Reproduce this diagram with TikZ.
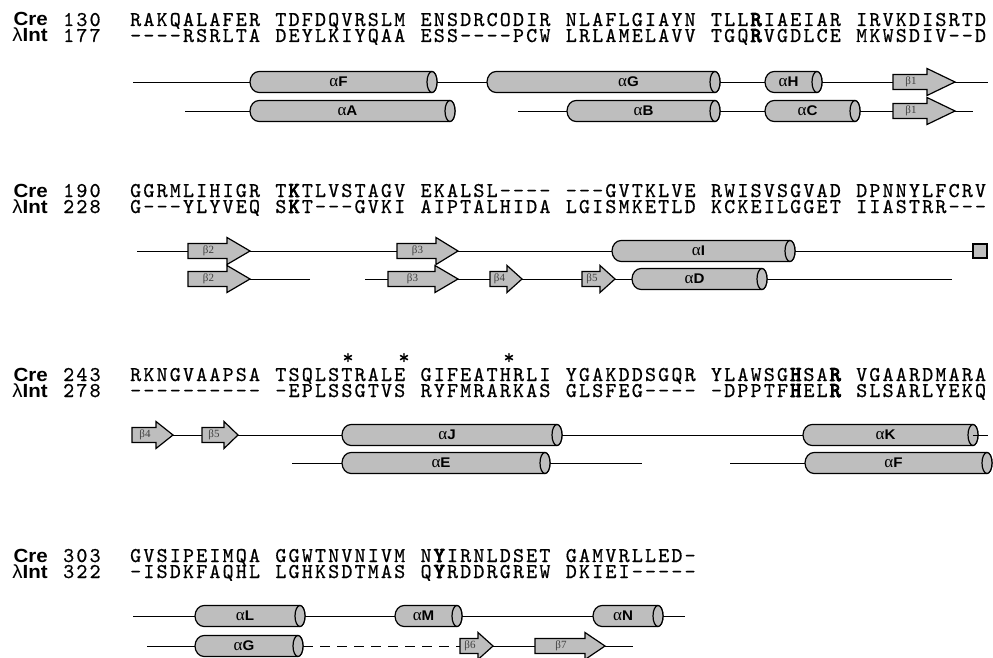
\documentclass[tikz,border=0pt]{standalone}
\usepackage{fontspec}
\setmainfont{Liberation Serif}
\newfontfamily\seqfont{lmmono10-regular.otf}[UprightFeatures={FakeBold=0.6},BoldFont=lmmono10-regular.otf,BoldFeatures={FakeBold=4.5},LetterSpace=10.36,Ligatures=TeXOff]
\newfontfamily\labfont{Liberation Sans}[FakeStretch=1.08]
\newfontfamily\grkfont{Liberation Serif}
\usetikzlibrary{calc}

\definecolor{ssfill}{RGB}{190,190,190}

% helix label: Greek alpha plus bold letter
\newcommand\al[1]{{\grkfont\fontsize{17}{17}\selectfont α}{\labfont\bfseries\fontsize{14}{14}\selectfont #1}}

% one aligned row of residues, set in groups of ten: {name}{baseline y}{groups}
\newcommand\seqrow[3]{%
  \foreach \g [count=\i from 0] in {#3} {
    \node[seq] (#1-\i) at ({130+\i*145.2},#2) {\g};
  }
}

% helix drawn as a cylinder: [label shift]{name}{x left}{x right}{y}{label}
\newcommand\helix[6][0]{%
  \path[ssline] (#3+9,#5-10.5) -- (#4-5,#5-10.5)
     arc[start angle=-90,end angle=90,x radius=5,y radius=10.5]
     -- (#3+9,#5+10.5)
     arc[start angle=90,end angle=270,x radius=9,y radius=10.5] -- cycle;
  \path[ssline] (#4-5,#5) ellipse[x radius=5,y radius=10.5];
  \node[ssbox, minimum width={(#4-#3)*1pt}, minimum height=21pt] (#2) at ({(#3+#4)/2},#5) {};
  \coordinate (#2-c) at (#4-5,#5);
  \node[hlab] (#2-t) at ({(#3+#4-10)/2+#1},#5) {#6};
}

% beta strand drawn as an arrow: [head length]{name}{x left}{x tip}{y}{label}
\newcommand\strand[6][20]{%
  \path[ssline] (#3,#5-7.5) -- (#4-#1,#5-7.5) -- (#4-#1,#5-13.5) -- (#4,#5)
     -- (#4-#1,#5+13.5) -- (#4-#1,#5+7.5) -- (#3,#5+7.5) -- cycle;
  \node[ssbox, minimum width={(#4-#3)*1pt}, minimum height=27pt] (#2) at ({(#3+#4)/2},#5) {};
  \node[slab] (#2-t) at ({(#3+#4-#1)/2+1},#5) {#6};
}

\begin{document}
\begin{tikzpicture}[
  x=1pt, y=-1pt,
  seq/.style={font=\seqfont\fontsize{21}{21}\selectfont, anchor=base west, inner sep=0,
    text height=12pt, text depth=1pt},
  prot/.style={font=\labfont\bfseries\fontsize{19}{19}\selectfont, anchor=base east, inner sep=0,
    text height=13pt, text depth=1pt},
  star/.style={font=\seqfont\fontsize{21}{21}\selectfont, anchor=base, inner sep=0,
    text height=12pt, text depth=0pt},
  conn/.style={line width=0.9pt},
  ssline/.style={draw, line width=1.2pt, fill=ssfill},
  ssbox/.style={inner sep=0, draw=none},
  endbox/.style={draw, line width=1.2pt, fill=ssfill, minimum size=14pt, inner sep=0},
  hlab/.style={inner sep=0, anchor=center},
  slab/.style={inner sep=0, anchor=center, text=black!75, font=\grkfont\fontsize{11}{11}\selectfont},
]
\useasboundingbox (0,0) rectangle (993,658);

% ---------------- residues 130 / 177 ----------------
\node[prot] (cre1) at (48,26) {Cre};
\node[prot] (int1) at (48,42) {{\mdseries λ}Int};
\node[seq] (n1a) at (63,26) {130};
\node[seq] (n1b) at (63,42) {177};
\seqrow{q1a}{26}{RAKQALAFER,TDFDQVRSLM,ENSDRCODIR,NLAFLGIAYN,TLL\textbf{R}IAEIAR,IRVKDISRTD}
\seqrow{q1b}{42}{----RSRLTA,DEYLKIYQAA,ESS----PCW,LRLAMELAVV,TGQ\textbf{R}VGDLCE,MKWSDIV--D}

\coordinate (s1a) at (133,82);
\helix{hF}{250}{437}{82}{\al{F}}
\helix[30]{hG}{487}{720}{82}{\al{G}}
\helix{hH}{765}{822}{82}{\al{H}}
\strand[28]{b1}{893}{955}{82}{β1}
\coordinate (e1a) at (988,82);
\draw[conn] (s1a) -- (hF.west) (hF.east) -- (hG.west) (hG.east) -- (hH.west)
  (hH.east) -- (b1.west) (b1.east) -- (e1a);

\coordinate (s1b) at (185,111);
\helix{hA}{250}{455}{111}{\al{A}}
\coordinate (s1c) at (518,111);
\helix[5]{hB}{567}{720}{111}{\al{B}}
\helix{hC}{765}{860}{111}{\al{C}}
\strand[28]{b1x}{893}{955}{111}{β1}
\coordinate (e1b) at (973,111);
\draw[conn] (s1b) -- (hA.west) (s1c) -- (hB.west) (hB.east) -- (hC.west)
  (hC.east) -- (b1x.west) (b1x.east) -- (e1b);

% ---------------- residues 190 / 228 ----------------
\node[prot] (cre2) at (48,197) {Cre};
\node[prot] (int2) at (48,213) {{\mdseries λ}Int};
\node[seq] (n2a) at (63,197) {190};
\node[seq] (n2b) at (63,213) {228};
\seqrow{q2a}{197}{GGRMLIHIGR,T\textbf{K}TLVSTAGV,EKALSL----,---GVTKLVE,RWISVSGVAD,DPNNYLFCRV}
\seqrow{q2b}{213}{G---YLYVEQ,S\textbf{K}T---GVKI,AIPTALHIDA,LGISMKETLD,KCKEILGGET,IIASTRR---}

\coordinate (s2a) at (137,251);
\strand[23]{b2}{188}{250}{251}{β2}
\strand[22]{b3}{397}{458}{251}{β3}
\helix{hI}{612}{795}{251}{\al{I}}
\node[endbox] (sq) at (980,251) {};
\draw[conn] (s2a) -- (b2.west) (b2.east) -- (b3.west) (b3.east) -- (hI.west)
  (hI.east) -- (sq.west);

\strand[23]{b2x}{188}{250}{279}{β2}
\coordinate (e2b) at (310,279);
\coordinate (s2c) at (365,279);
\strand[23]{b3x}{388}{458}{279}{β3}
\strand[15]{b4x}{490}{522}{279}{β4}
\strand[15]{b5x}{582}{615}{279}{β5}
\helix{hD}{632}{767}{279}{\al{D}}
\coordinate (e2c) at (952,279);
\draw[conn] (b2x.east) -- (e2b) (s2c) -- (b3x.west) (b3x.east) -- (b4x.west)
  (b4x.east) -- (b5x.west) (b5x.east) -- (hD.west) (hD.east) -- (e2c);

% ---------------- residues 243 / 278 ----------------
\node[star] (st1) at (348,364) {*};
\node[star] (st2) at (404,364) {*};
\node[star] (st3) at (509,364) {*};
\node[prot] (cre3) at (48,381) {Cre};
\node[prot] (int3) at (48,397) {{\mdseries λ}Int};
\node[seq] (n3a) at (63,381) {243};
\node[seq] (n3b) at (63,397) {278};
\seqrow{q3a}{381}{RKNGVAAPSA,TSQLSTRALE,GIFEATHRLI,YGAKDDSGQR,YLAWSG\textbf{H}SA\textbf{R},VGAARDMARA}
\seqrow{q3b}{397}{----------,-EPLSSGTVS,RYFMRARKAS,GLSFEG----,-DPPTF\textbf{H}EL\textbf{R},SLSARLYEKQ}

\strand[17]{b4}{132}{173}{435}{β4}
\strand[14]{b5}{202}{238}{435}{β5}
\helix{hJ}{342}{562}{435}{\al{J}}
\helix{hK}{803}{978}{435}{\al{K}}
\coordinate (e3a) at (988,435);
\draw[conn] (b4.east) -- (b5.west) (b5.east) -- (hJ.west) (hJ.east) -- (hK.west)
  (hK-c) -- (e3a);

\coordinate (s3b) at (292,463);
\helix{hE}{342}{550}{463}{\al{E}}
\coordinate (e3b) at (642,463);
\coordinate (s3c) at (730,463);
\helix{hFb}{805}{992}{463}{\al{F}}
\draw[conn] (s3b) -- (hE.west) (hE.east) -- (e3b) (s3c) -- (hFb.west);

% ---------------- residues 303 / 322 ----------------
\node[prot] (cre4) at (48,562) {Cre};
\node[prot] (int4) at (48,578) {{\mdseries λ}Int};
\node[seq] (n4a) at (63,562) {303};
\node[seq] (n4b) at (63,578) {322};
\seqrow{q4a}{562}{GVSIPEIMQA,GGWTNVNIVM,N\textbf{Y}IRNLDSET,GAMVRLLED-}
\seqrow{q4b}{578}{-ISDKFAQHL,LGHKSDTMAS,Q\textbf{Y}RDDRGREW,DKIEI-----}

\coordinate (s4a) at (133,616);
\helix{hL}{195}{305}{616}{\al{L}}
\helix{hM}{395}{462}{616}{\al{M}}
\helix{hN}{593}{663}{616}{\al{N}}
\coordinate (e4a) at (685,616);
\draw[conn] (s4a) -- (hL.west) (hL.east) -- (hM.west) (hM.east) -- (hN.west)
  (hN.east) -- (e4a);

\coordinate (s4b) at (147,646);
\helix{hGb}{195}{303}{646}{\al{G}}
\strand[15]{b6}{460}{493}{646}{β6}
\strand[20]{b7}{535}{605}{646}{β7}
\coordinate (e4b) at (633,646);
\draw[conn] (s4b) -- (hGb.west) (b6.east) -- (b7.west) (b7.east) -- (e4b);
\draw[conn, dash pattern=on 10pt off 7pt] (hGb.east) -- (b6.west);
\end{tikzpicture}
\end{document}
